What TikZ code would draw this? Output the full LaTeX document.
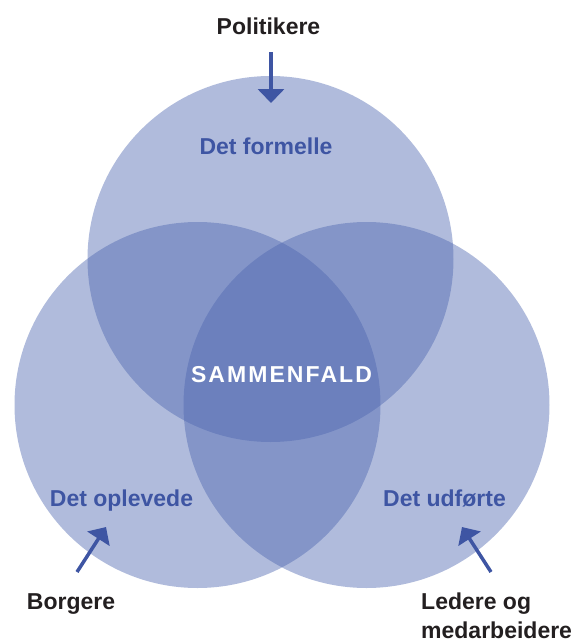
\documentclass[tikz,border=0pt]{standalone}
\usepackage{fontspec}
\setmainfont{Liberation Sans}
\usetikzlibrary{arrows.meta}
\definecolor{vennblue}{RGB}{76,101,175}
\definecolor{labelblue}{RGB}{62,85,163}
\definecolor{ink}{RGB}{35,31,32}
\tikzset{
	set/.style={circle, minimum size=366pt, inner sep=0pt, fill=vennblue, fill opacity=0.44},
	pointer/.style={-{Triangle[width=26pt,length=14pt]}, line width=3.5pt, labelblue}
}
\begin{document}
\begin{tikzpicture}[x=1pt, y=-1pt]
		\useasboundingbox (0,0) rectangle (584,641);
		\node[set] (0) at (270.5, 259) {};
		\node[set] (1) at (197.5, 405) {};
		\node[set] (2) at (366.5, 405) {};

		\begin{scope}[every node/.append style={font=\bfseries\fontsize{23}{29}\selectfont, anchor=base, inner sep=0pt}]
			\node[ink] (3) at (268.5, 34) {Politikere};
			\node[labelblue] (4) at (266, 154) {Det formelle};
			\node[white, font=\bfseries\fontsize{23}{29}\selectfont\addfontfeature{LetterSpace=9}] (5) at (281.5, 382.5) {SAMMENFALD};
			\node[labelblue] (6) at (121.5, 506.5) {Det oplevede};
			\node[labelblue] (7) at (444.5, 506.5) {Det udførte};
			\node[ink] (8) at (71, 609) {Borgere};
			\node[ink, anchor=base west, align=left] (9) at (421, 638) {Ledere og\\medarbeidere};
		\end{scope}

		\coordinate (a0) at (271, 52);
		\coordinate (b0) at (271, 103);
		\coordinate (a1) at (77, 572);
		\coordinate (b1) at (106, 527);
		\coordinate (a2) at (491, 572);
		\coordinate (b2) at (462, 527);
		\draw [pointer] (a0) -- (b0);
		\draw [pointer] (a1) -- (b1);
		\draw [pointer] (a2) -- (b2);
	\end{tikzpicture}
\end{document}
